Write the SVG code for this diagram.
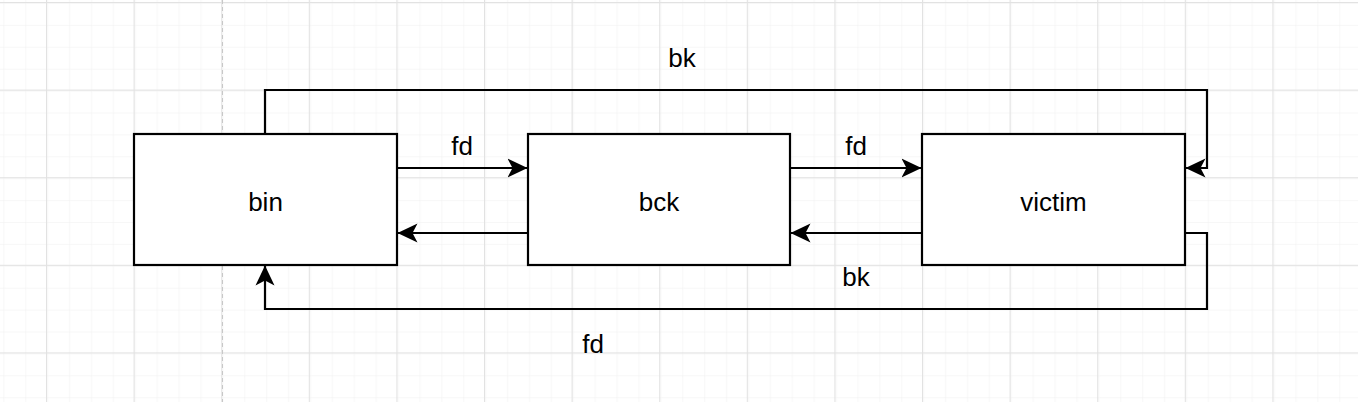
<svg xmlns="http://www.w3.org/2000/svg" width="1358" height="402" viewBox="0 0 1358 402">
<defs>
<pattern id="minor" x="46" y="2" width="21.9" height="21.9" patternUnits="userSpaceOnUse">
<path d="M21.9 0V21.9M0 21.9H21.9" fill="none" stroke="#f0f0f0" stroke-width="1"/>
</pattern>
<pattern id="major" x="46" y="2" width="87.6" height="87.6" patternUnits="userSpaceOnUse">
<rect width="87.6" height="87.6" fill="url(#minor)"/>
<path d="M0.5 0V87.6M0 0.5H87.6" fill="none" stroke="#e2e2e2" stroke-width="1"/>
</pattern>
<marker id="arr" viewBox="0 0 20 20" refX="20" refY="10" markerWidth="20" markerHeight="20" markerUnits="userSpaceOnUse" orient="auto">
<path d="M20 10L0 0.5L5 10L0 19.5Z" fill="#000"/>
</marker>
<style>
.node{fill:#fff;stroke:#000;stroke-width:2.2}
.edge{fill:none;stroke:#000;stroke-width:2.2;stroke-linejoin:miter}
.lbl{font-family:"Liberation Sans",Arial,sans-serif;font-size:26px;fill:#000;text-anchor:middle}
</style>
</defs>
<rect width="1358" height="402" fill="#fff"/>
<rect width="1358" height="402" fill="url(#major)"/>
<line x1="222.5" y1="0" x2="222.5" y2="402" stroke="#c8c8c8" stroke-width="1" stroke-dasharray="4 3"/>
<g id="connectors">
<path class="edge" d="M397 168H527.5" marker-end="url(#arr)"/>
<path class="edge" d="M528 233H397.5" marker-end="url(#arr)"/>
<path class="edge" d="M790 168H921.5" marker-end="url(#arr)"/>
<path class="edge" d="M922 233H790.5" marker-end="url(#arr)"/>
<path class="edge" d="M265 134V90H1207V168H1185.5" marker-end="url(#arr)"/>
<path class="edge" d="M1185 233H1207V309H265V265.5" marker-end="url(#arr)"/>
<text class="lbl" x="462" y="155">fd</text>
<text class="lbl" x="856" y="155">fd</text>
<text class="lbl" x="682" y="67">bk</text>
<text class="lbl" x="856" y="286">bk</text>
<text class="lbl" x="593" y="353">fd</text>
</g>
<g id="bin">
<rect class="node" x="134" y="134" width="263" height="131"/>
<text class="lbl" x="265.5" y="211">bin</text>
</g>
<g id="bck">
<rect class="node" x="528" y="134" width="262" height="131"/>
<text class="lbl" x="659" y="211">bck</text>
</g>
<g id="victim">
<rect class="node" x="922" y="134" width="263" height="131"/>
<text class="lbl" x="1053.5" y="211">victim</text>
</g>
</svg>
